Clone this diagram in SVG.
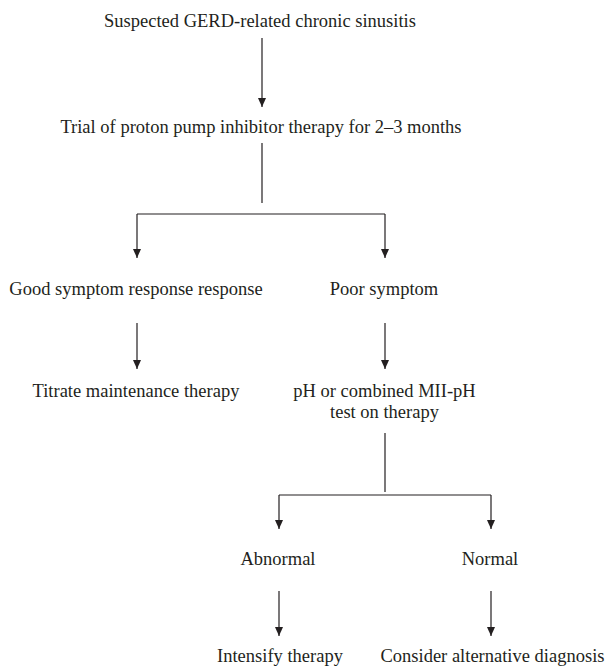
<svg xmlns="http://www.w3.org/2000/svg" width="608" height="668" viewBox="0 0 608 668">
<style>
.t{font-family:"Liberation Serif","Times New Roman",serif;font-size:18.5px;fill:#231f20;text-anchor:middle}
.c{stroke:#231f20;stroke-width:1.2;fill:none}
</style>
<defs>
<marker id="ah" markerWidth="9" markerHeight="8" refX="9" refY="4" orient="auto" markerUnits="userSpaceOnUse" viewBox="0 0 9 8">
<path d="M0,0 L9,4 L0,8 Z" fill="#231f20"/>
</marker>
</defs>
<rect width="608" height="668" fill="#fff"/>
<g id="connectors">
<path class="c" d="M262,38 V107" marker-end="url(#ah)"/>
<path class="c" d="M262,143 V203"/>
<path class="c" d="M137,214 H385"/>
<path class="c" d="M137,214 V258" marker-end="url(#ah)"/>
<path class="c" d="M385,214 V258" marker-end="url(#ah)"/>
<path class="c" d="M137,323 V369" marker-end="url(#ah)"/>
<path class="c" d="M385,323 V369" marker-end="url(#ah)"/>
<path class="c" d="M385,433 V492"/>
<path class="c" d="M279,495 H491"/>
<path class="c" d="M279,495 V529" marker-end="url(#ah)"/>
<path class="c" d="M491,495 V529" marker-end="url(#ah)"/>
<path class="c" d="M279,591 V636" marker-end="url(#ah)"/>
<path class="c" d="M491,591 V636" marker-end="url(#ah)"/>
</g>
<g id="n1"><text class="t" x="260" y="27">Suspected GERD-related chronic sinusitis</text></g>
<g id="n2"><text class="t" x="261" y="133">Trial of proton pump inhibitor therapy for 2–3 months</text></g>
<g id="n3"><text class="t" x="136" y="295">Good symptom response response</text></g>
<g id="n4"><text class="t" x="384" y="295">Poor symptom</text></g>
<g id="n5"><text class="t" x="136" y="397">Titrate maintenance therapy</text></g>
<g id="n6"><text class="t" x="384.5" y="397">pH or combined MII-pH</text><text class="t" x="384.5" y="418">test on therapy</text></g>
<g id="n7"><text class="t" x="278" y="565">Abnormal</text></g>
<g id="n8"><text class="t" x="490" y="565">Normal</text></g>
<g id="n9"><text class="t" x="280" y="662">Intensify therapy</text></g>
<g id="n10"><text class="t" x="492.5" y="662">Consider alternative diagnosis</text></g>
</svg>
